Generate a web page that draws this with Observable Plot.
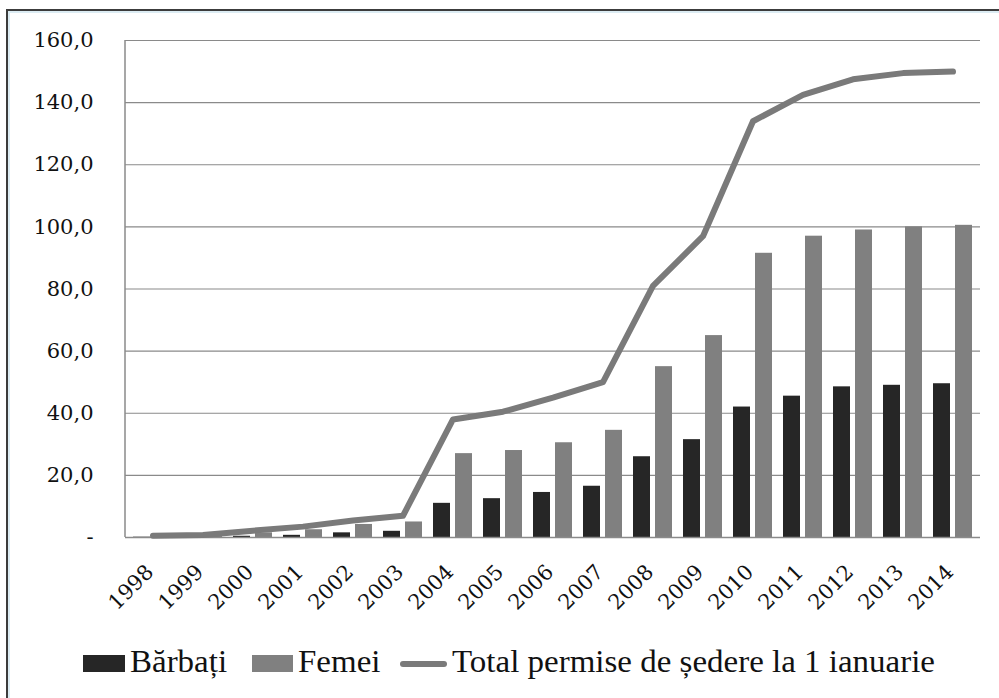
<!DOCTYPE html>
<html>
<head>
<meta charset="utf-8">
<script src="https://cdn.jsdelivr.net/npm/d3@7"></script>
<script src="https://cdn.jsdelivr.net/npm/@observablehq/plot@0.6"></script>
<style>
  html, body { margin: 0; padding: 0; background: #fff; overflow: hidden; }
  body { width: 999px; height: 698px; position: relative; font-family: "DejaVu Serif", serif; }
  #frame { position: absolute; left: 6px; top: 9px; width: 1200px; height: 900px;
    border-top: 2px solid #3c3c3c; border-left: 2px solid #3c3c3c;
    box-shadow: inset 2px 2px 0 #dcecf3; }
  #chart { position: absolute; left: 0; top: 0; }
  #legend { position: absolute; left: 0; top: 0; width: 999px; height: 698px; pointer-events: none; }
  .sw { position: absolute; }
  .lt { position: absolute; font-family: "Liberation Serif", serif; font-size: 32px; line-height: 1;
    color: #111; white-space: nowrap; transform-origin: 0 0; }
</style>
</head>
<body>
<div id="frame"></div>
<div id="chart"></div>
<div id="legend"></div>
<script>
const years = ["1998","1999","2000","2001","2002","2003","2004","2005","2006","2007","2008","2009","2010","2011","2012","2013","2014"];
const barbati = [0.1, 0.2, 0.4, 0.7, 1.5, 2.0, 11.0, 12.5, 14.5, 16.5, 26.0, 31.5, 42.0, 45.5, 48.5, 49.0, 49.5];
const femei = [0.5, 0.7, 1.5, 2.5, 4.2, 5.0, 27.0, 28.0, 30.5, 34.5, 55.0, 65.0, 91.5, 97.0, 99.0, 100.0, 100.5];
const total = [0.6, 0.8, 2.2, 3.5, 5.5, 7.0, 38.0, 40.5, 45.0, 50.0, 81.0, 97.0, 134.0, 142.5, 147.5, 149.5, 150.0];
const yTicks = [0, 20, 40, 60, 80, 100, 120, 140, 160];
const seriesNames = ["Bărbați", "Femei", "Total permise de ședere la 1 ianuarie"];
const colors = ["#262626", "#808080", "#7a7a7a"];

const rows = years.map((y, i) => ({year: y, barbati: barbati[i], femei: femei[i], total: total[i]}));

const leftLine = (index, scales, values, dims) => {
  const g = document.createElementNS("http://www.w3.org/2000/svg", "line");
  g.setAttribute("x1", dims.marginLeft);
  g.setAttribute("x2", dims.marginLeft);
  g.setAttribute("y1", dims.marginTop);
  g.setAttribute("y2", dims.height - dims.marginBottom);
  g.setAttribute("stroke", "#8a8a8a");
  g.setAttribute("stroke-width", 1.5);
  return g;
};

const chart = Plot.plot({
  width: 999,
  height: 640,
  marginLeft: 125,
  marginRight: 19,
  marginTop: 40,
  marginBottom: 103,
  style: {background: "transparent", fontFamily: "DejaVu Serif, serif", fontSize: "20px", color: "#111", overflow: "visible"},
  x: {type: "band", domain: years, paddingInner: 0.225, paddingOuter: 0.1125, label: null},
  y: {domain: [0, 160], label: null},
  marks: [
    Plot.ruleY(yTicks.filter(d => d > 0), {stroke: "#8a8a8a", strokeWidth: 1.2}),
    Plot.barY(rows, {x: "year", y: "barbati", fill: colors[0], insetRight: 22}),
    Plot.barY(rows, {x: "year", y: "femei", fill: colors[1], insetLeft: 22}),
    Plot.ruleY([0], {stroke: "#8a8a8a", strokeWidth: 1.5}),
    leftLine,
    Plot.line(rows, {x: "year", y: "total", stroke: colors[2], strokeWidth: 6, strokeLinecap: "round", strokeLinejoin: "round"}),
    Plot.axisY({ticks: yTicks, tickSize: 0, tickPadding: 32, fontSize: 21,
      tickFormat: d => d === 0 ? "-" : d.toFixed(1).replace(".", ",")}),
    Plot.axisX({tickSize: 0, tickRotate: -45, tickPadding: 31, dx: -3, fontSize: 21})
  ]
});
document.getElementById("chart").appendChild(chart);

// Legend below the plot
const legend = document.getElementById("legend");
const items = [
  {sw: [83, 655, 42, 17], text: 130},
  {sw: [252, 655, 41, 17], text: 298},
  {sw: [400, 661, 47, 6], text: 452}
];
const texts = [];
seriesNames.forEach((name, i) => {
  const [l, t, w, h] = items[i].sw;
  const sw = document.createElement("div");
  sw.className = "sw";
  Object.assign(sw.style, {left: l + "px", top: t + "px", width: w + "px", height: h + "px", background: colors[i], borderRadius: i === 2 ? "3px" : "0"});
  legend.appendChild(sw);
  const tx = document.createElement("div");
  tx.className = "lt";
  tx.textContent = name;
  Object.assign(tx.style, {left: items[i].text + "px", top: "645px"});
  legend.appendChild(tx);
  texts.push(tx);
});
// condense the legend text to the reference's narrow serif look
const w = texts[2].getBoundingClientRect().width;
const sx = 483 / w;
texts.forEach(t => t.style.transform = `scaleX(${sx})`);
</script>
</body>
</html>
